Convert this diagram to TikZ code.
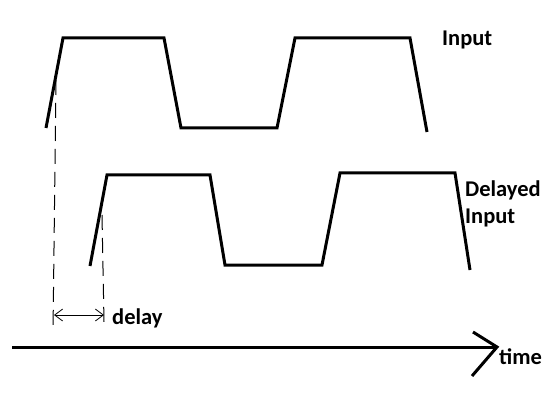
\documentclass[tikz,border=0pt]{standalone}
\usepackage{fontspec}
\setmainfont{Carlito}
\usetikzlibrary{arrows.meta}

\begin{document}
\begin{tikzpicture}[x=1pt, y=-1pt,
  wave/.style={line width=3pt, line join=miter},
  guide/.style={line width=1pt, dash pattern=on 15pt off 8pt},
  label/.style={font=\fontsize{22.5}{24}\selectfont\bfseries, anchor=west, inner sep=0pt, align=left},
  ]
  \useasboundingbox (0,0) rectangle (546,414);

  % input signal
  \draw[wave] (46,128) -- (63,38) -- (164,38) -- (181,128) -- (277,128)
    -- (295,38) -- (410,38) -- (427,132);
  % delayed copy
  \draw[wave] (90,266) -- (107,175) -- (210,175) -- (225,265) -- (322,265)
    -- (340,173) -- (455,173) -- (470,270);

  \coordinate (t0) at (56,80);
  \coordinate (t1) at (102,215);
  \draw[guide] (t0) -- (53,332);
  \draw[guide] (t1) -- (104,322);

  % delay marker
  \coordinate (d0) at (54,315);
  \coordinate (d1) at (104,315);
  \draw[line width=0.8pt, {Straight Barb[length=8pt, width=12pt]}-{Straight Barb[length=8pt, width=12pt]}] (d0) -- (d1);
  \node[label] (delay) at (112,318) {delay};

  % time axis
  \coordinate (origin) at (12,347);
  \coordinate (tip) at (497,347);
  \draw[line width=3pt] (origin) -- (tip);
  \draw[line width=3pt, line join=miter] (473,332) -- (tip) -- (472,376);
  \node[label] (time) at (499,357) {time};

  \node[label] (in) at (442,40) {Input};
  \node[label] (delin) at (465,190) {Delayed};
  \node[label] (delin2) at (465,218) {Input};
\end{tikzpicture}
\end{document}
